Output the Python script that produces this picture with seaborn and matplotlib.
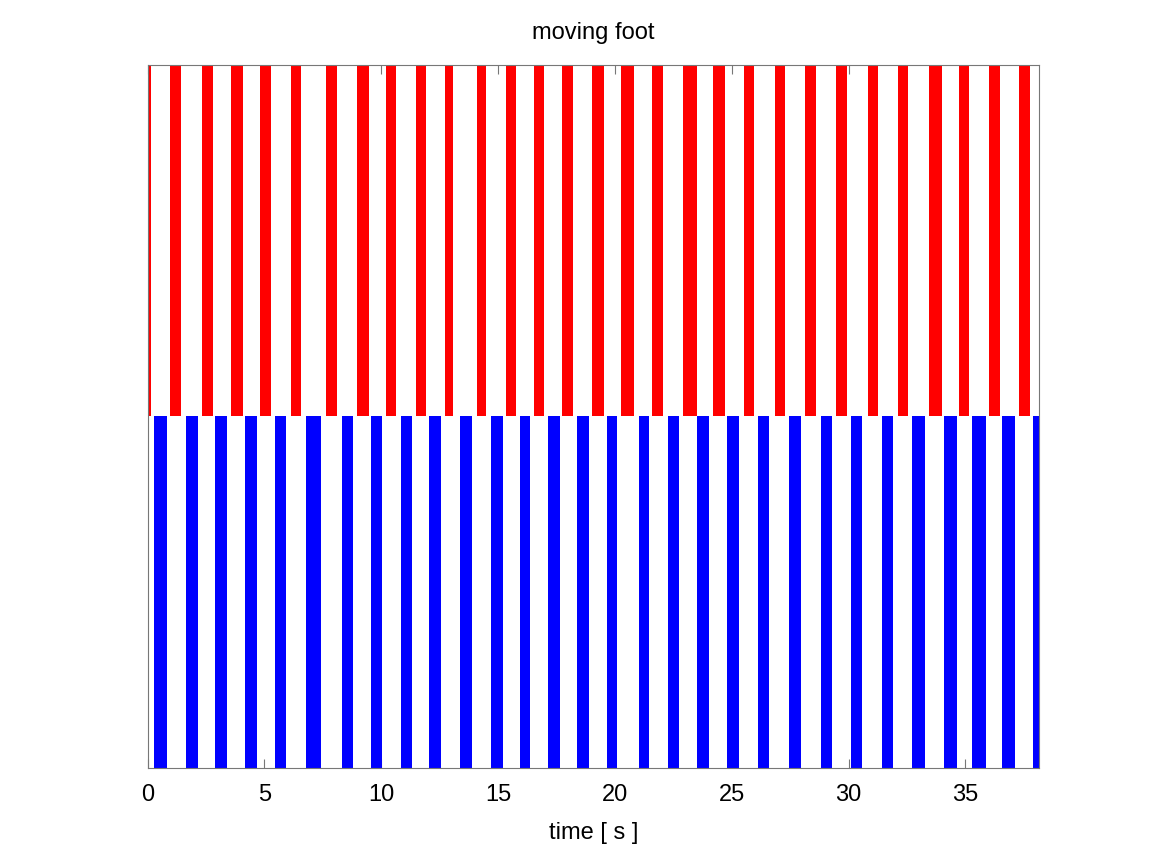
import matplotlib
matplotlib.use("Agg")
import matplotlib.pyplot as plt
import seaborn as sns
import numpy as np

# Moving foot intervals (seconds)
red_start = [0.00, 0.95, 2.32, 3.59, 4.83, 6.15, 7.65, 8.95, 10.22, 11.48,
             12.74, 14.10, 15.33, 16.53, 17.75, 19.03, 20.25, 21.59, 22.90, 24.21,
             25.54, 26.85, 28.15, 29.47, 30.83, 32.11, 33.43, 34.72, 36.01, 37.28]
red_end = [0.16, 1.45, 2.82, 4.07, 5.27, 6.58, 8.10, 9.47, 10.65, 11.90,
           13.09, 14.50, 15.77, 16.95, 18.22, 19.52, 20.80, 22.05, 23.50, 24.72,
           25.96, 27.29, 28.59, 29.92, 31.24, 32.53, 33.98, 35.16, 36.47, 37.76]
blue_start = [0.29, 1.65, 2.90, 4.16, 5.46, 6.80, 8.31, 9.58, 10.85, 12.05,
              13.38, 14.69, 15.93, 17.15, 18.39, 19.66, 21.04, 22.26, 23.53, 24.81,
              26.12, 27.45, 28.82, 30.10, 31.44, 32.71, 34.07, 35.29, 36.58, 37.90]
blue_end = [0.85, 2.17, 3.39, 4.67, 5.91, 7.41, 8.78, 10.02, 11.31, 12.55,
            13.89, 15.20, 16.35, 17.66, 18.90, 20.08, 21.45, 22.73, 24.01, 25.32,
            26.58, 27.95, 29.30, 30.57, 31.89, 33.26, 34.64, 35.87, 37.11, 38.40]
x_ticks = [0, 5, 10, 15, 20, 25, 30, 35]
x_max = 38.17

sns.set_style("white")
plt.rcParams['font.family'] = ['Liberation Sans', 'DejaVu Sans']
plt.rcParams['text.color'] = 'black'
plt.rcParams['axes.labelcolor'] = 'black'

fig = plt.figure(figsize=(11.5, 8.62), dpi=100)
ax = fig.add_axes([0.1283, 0.1079, 0.7756, 0.8159])

rs = np.array(red_start); re = np.array(red_end)
bs = np.array(blue_start); be = np.array(blue_end)
ax.bar(rs, 0.5, width=re - rs, bottom=0.5, align='edge',
       color='#ff0000', linewidth=0)
ax.bar(bs, 0.5, width=be - bs, bottom=0.0, align='edge',
       color='#0000ff', linewidth=0)

ax.set_xlim(0, x_max)
ax.set_ylim(0, 1)
ax.set_xticks(x_ticks)
ax.set_xticklabels([str(t) for t in x_ticks])
ax.set_yticks([])
ax.tick_params(axis='x', direction='in', length=6.5, width=0.8, color='#777777',
               top=True, bottom=True, labelsize=17, pad=11, labelcolor='black')
for s in ax.spines.values():
    s.set_visible(True)
    s.set_color('#777777')
    s.set_linewidth(0.8)
ax.set_xlabel('time [ s ]', fontsize=17, labelpad=11, color='black')
ax.set_title('moving foot', fontsize=17, pad=19, color='black')

fig.savefig('out.png', dpi=100, facecolor='white')
